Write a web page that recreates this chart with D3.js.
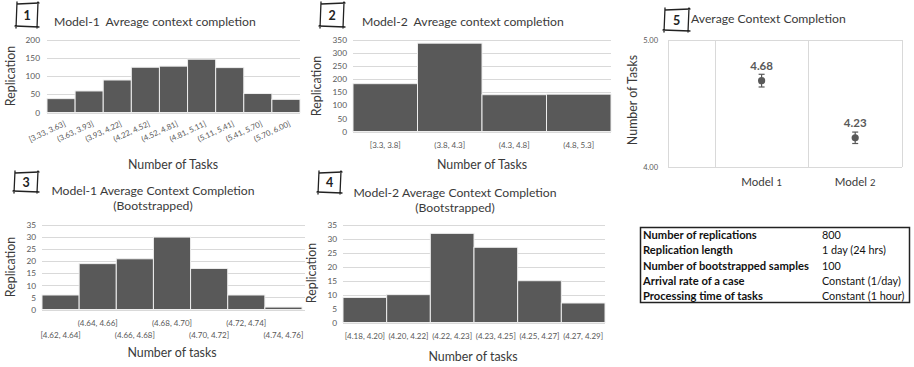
<!DOCTYPE html>
<html>
<head>
<meta charset="utf-8">
<script src="https://cdn.jsdelivr.net/npm/d3@7"></script>
<style>
  html, body { margin: 0; padding: 0; background: #fff; }
  svg { display: block; font-family: Lato, "Open Sans", sans-serif; }
</style>
</head>
<body>
<svg id="fig" width="914" height="367"></svg>
<script>
// ---- data ----
const m1Bins = ["[3.33, 3.63]", "(3.63, 3.93]", "(3.93, 4.22]", "(4.22, 4.52]", "(4.52, 4.81]",
                "(4.81, 5.11]", "(5.11, 5.41]", "(5.41, 5.70]", "(5.70, 6.00]"];
const m1Counts = [38, 59, 89, 124, 127, 146, 123, 52, 36];

const m2Bins = ["[3.3, 3.8]", "(3.8, 4.3]", "(4.3, 4.8]", "(4.8, 5.3]"];
const m2Counts = [182, 336, 140, 142];

const m1BootBins = ["[4.62, 4.64]", "(4.64, 4.66]", "(4.66, 4.68]", "(4.68, 4.70]",
                    "(4.70, 4.72]", "(4.72, 4.74]", "(4.74, 4.76]"];
const m1BootCounts = [6, 19, 21, 30, 17, 6, 1];

const m2BootBins = ["[4.18, 4.20]", "(4.20, 4.22]", "(4.22, 4.23]", "(4.23, 4.25]",
                    "(4.25, 4.27]", "(4.27, 4.29]"];
const m2BootCounts = [9, 10, 32, 27, 15, 7];

const modelNames = ["1", "2"];
const modelMeans = [4.68, 4.23];
const modelErr = [0.05, 0.045];
const modelPos = [1.5, 2.5];

const tableKeys = ["Number of replications", "Replication length", "Number of bootstrapped samples",
                   "Arrival rate of a case", "Processing time of tasks"];
const tableVals = ["800", "1 day (24 hrs)", "100", "Constant (1/day)", "Constant (1 hour)"];

// ---- styling ----
const BAR = "#595959", GRID = "#d9d9d9", TICK = "#595959", TXT = "#3a3a3a";
const TITLE_SIZE = 12.2, AXIS_TITLE_SIZE = 12.4;

const svg = d3.select("#fig");

// hand-drawn style number badge
function badge(x0, y0, x1, y1, label) {
  const p = d3.path();
  p.moveTo(x0 + 1, y0 + 1); p.lineTo(x1 + 1, y0);
  p.moveTo(x1, y0 - 1); p.lineTo(x1 - 1, y1 + 1);
  p.moveTo(x1 + 1, y1); p.lineTo(x0 - 1, y1 - 1);
  p.moveTo(x0, y1 + 1); p.lineTo(x0 + 1, y0 - 1);
  svg.append("path").attr("d", p.toString()).attr("fill", "none")
    .attr("stroke", "#222").attr("stroke-width", 1.3).attr("stroke-linecap", "round");
  svg.append("text").attr("x", (x0 + x1) / 2).attr("y", (y0 + y1) / 2 + 4.5)
    .attr("text-anchor", "middle").attr("font-size", 12.5).attr("font-weight", 700)
    .attr("fill", "#222").text(label);
}

// histogram panel
function histogram(cfg) {
  const g = svg.append("g");
  const x = d3.scaleBand().domain(cfg.bins).range([cfg.left, cfg.right]).padding(0);
  const y = d3.scaleLinear().domain([0, cfg.ymax]).range([cfg.bottom, cfg.top]);
  const ticks = d3.range(0, cfg.ymax + 0.001, cfg.step);

  // gridlines
  g.append("g").selectAll("line").data(ticks).join("line")
    .attr("x1", cfg.left).attr("x2", cfg.gridRight || cfg.right)
    .attr("y1", d => Math.round(y(d)) + 0.5).attr("y2", d => Math.round(y(d)) + 0.5)
    .attr("stroke", GRID).attr("stroke-width", 1);

  // y axis labels
  const ya = d3.axisLeft(y).tickValues(ticks).tickSize(0).tickPadding(0);
  const yg = g.append("g").attr("transform", `translate(${cfg.tickX},0)`).call(ya);
  yg.select(".domain").remove();
  yg.selectAll("text").attr("font-size", 8.3).attr("fill", TICK).attr("font-family", "Lato, sans-serif");

  // bars
  g.append("g").selectAll("rect").data(cfg.counts).join("rect")
    .attr("x", (d, i) => x(cfg.bins[i]))
    .attr("width", x.bandwidth())
    .attr("y", d => y(d))
    .attr("height", d => y(0) - y(d))
    .attr("fill", BAR).attr("stroke", "#eeeeee").attr("stroke-width", 1);

  // x labels
  const xl = g.append("g").selectAll("text").data(cfg.bins).join("text")
    .attr("fill", TICK).attr("font-size", cfg.labelSize || 8).text(d => d);
  if (cfg.rotate) {
    xl.attr("text-anchor", "end")
      .attr("transform", d => `translate(${x(d) + x.bandwidth() / 2 + 5},${cfg.bottom + 13}) rotate(${cfg.rotate})`);
  } else if (cfg.stagger) {
    xl.attr("text-anchor", "middle")
      .attr("x", d => x(d) + x.bandwidth() / 2)
      .attr("y", (d, i) => i % 2 === 0 ? cfg.bottom + 28 : cfg.bottom + 16);
  } else {
    xl.attr("text-anchor", "middle")
      .attr("x", d => x(d) + x.bandwidth() / 2)
      .attr("y", cfg.bottom + cfg.labelDy);
  }

  // y title
  g.append("text").attr("transform", `translate(${cfg.yTitleX},${cfg.yTitleY}) rotate(-90)`)
    .attr("text-anchor", "middle").attr("font-size", AXIS_TITLE_SIZE).attr("fill", TXT).text("Replication");
  // x title
  g.append("text").attr("x", cfg.xTitleX).attr("y", cfg.xTitleY)
    .attr("text-anchor", "middle").attr("font-size", AXIS_TITLE_SIZE).attr("fill", TXT).text(cfg.xTitle);
  // chart title
  cfg.title.forEach((t, i) => {
    g.append("text").attr("x", cfg.titleX).attr("y", cfg.titleY + i * 15)
      .attr("text-anchor", cfg.titleAnchor).attr("font-size", TITLE_SIZE).attr("fill", TXT)
      .attr("xml:space", "preserve").text(t);
  });
}

// Panel 1
badge(16, 3, 38, 27, "1");
histogram({
  bins: m1Bins, counts: m1Counts, ymax: 200, step: 50,
  left: 47, right: 300, top: 39.5, bottom: 112.5, tickX: 40,
  rotate: -25, labelSize: 7.8,
  yTitleX: 15, yTitleY: 76, xTitle: "Number of Tasks", xTitleX: 173, xTitleY: 169,
  title: ["Model-1  Avreage context completion"], titleX: 54, titleY: 26, titleAnchor: "start"
});

// Panel 2
badge(320, 3, 344, 27, "2");
histogram({
  bins: m2Bins, counts: m2Counts, ymax: 350, step: 50,
  left: 353, right: 611, top: 39.5, bottom: 131.5, tickX: 347,
  labelDy: 16, labelSize: 8,
  yTitleX: 321, yTitleY: 86, xTitle: "Number of Tasks", xTitleX: 482, xTitleY: 169,
  title: ["Model-2  Avreage context completion"], titleX: 362, titleY: 26, titleAnchor: "start"
});

// Panel 3
badge(14, 172, 38, 192, "3");
histogram({
  bins: m1BootBins, counts: m1BootCounts, ymax: 35, step: 5,
  left: 42, right: 302, gridRight: 305, top: 225, bottom: 309.5, tickX: 36,
  stagger: true, labelSize: 8,
  yTitleX: 15, yTitleY: 267, xTitle: "Number of tasks", xTitleX: 172, xTitleY: 357,
  title: ["Model-1 Average Context Completion", "(Bootstrapped)"], titleX: 153, titleY: 195, titleAnchor: "middle"
});

// Panel 4
badge(318, 172, 341, 193, "4");
histogram({
  bins: m2BootBins, counts: m2BootCounts, ymax: 35, step: 5,
  left: 343, right: 605, top: 225, bottom: 322.5, tickX: 337,
  labelDy: 16, labelSize: 8,
  yTitleX: 316, yTitleY: 273, xTitle: "Number of tasks", xTitleX: 473, xTitleY: 361,
  title: ["Model-2 Average Context Completion", "(Bootstrapped)"], titleX: 455, titleY: 197, titleAnchor: "middle"
});

// Panel 5: mean with error bars
(function () {
  badge(664, 9, 689, 31, "5");
  svg.append("text").attr("x", 691).attr("y", 23).attr("font-size", TITLE_SIZE).attr("fill", TXT)
    .text("Average Context Completion");

  const x = d3.scaleLinear().domain([0.5, 3]).range([668, 902]);
  const y = d3.scaleLinear().domain([4, 5]).range([167, 40]);
  const g = svg.append("g");

  // frame and vertical gridlines
  g.selectAll("line.h").data([4, 5]).join("line").attr("class", "h")
    .attr("x1", x(0.5)).attr("x2", x(3))
    .attr("y1", d => Math.round(y(d)) + 0.5).attr("y2", d => Math.round(y(d)) + 0.5)
    .attr("stroke", GRID);
  g.selectAll("line.v").data([0.5, 1, 2, 3]).join("line").attr("class", "v")
    .attr("x1", d => Math.round(x(d)) + 0.5).attr("x2", d => Math.round(x(d)) + 0.5)
    .attr("y1", y(5)).attr("y2", y(4))
    .attr("stroke", GRID);

  const ya = d3.axisLeft(y).tickValues([4, 5]).tickFormat(d3.format(".2f")).tickSize(0).tickPadding(0);
  const yg = g.append("g").attr("transform", "translate(658,0)").call(ya);
  yg.select(".domain").remove();
  yg.selectAll("text").attr("font-size", 7.5).attr("fill", TICK).attr("font-family", "Lato, sans-serif");

  g.append("text").attr("transform", "translate(637,100) rotate(-90)")
    .attr("text-anchor", "middle").attr("font-size", AXIS_TITLE_SIZE).attr("fill", TXT).text("Number of Tasks");

  // error bars
  modelMeans.forEach((m, i) => {
    const cx = x(modelPos[i]);
    const e = modelErr[i];
    g.append("line").attr("x1", cx).attr("x2", cx).attr("y1", y(m + e)).attr("y2", y(m - e))
      .attr("stroke", BAR).attr("stroke-width", 1.2);
    [m + e, m - e].forEach(v => {
      g.append("line").attr("x1", cx - 3).attr("x2", cx + 3).attr("y1", y(v)).attr("y2", y(v))
        .attr("stroke", BAR).attr("stroke-width", 1.2);
    });
    g.append("circle").attr("cx", cx).attr("cy", y(m)).attr("r", 3.6).attr("fill", BAR);
    g.append("text").attr("x", cx).attr("y", y(m) - 11).attr("text-anchor", "middle")
      .attr("font-size", 11.5).attr("font-weight", 700).attr("fill", BAR).text(d3.format(".2f")(m));
    const t = g.append("text").attr("x", cx).attr("y", 186).attr("text-anchor", "middle")
      .attr("font-size", 11.5).attr("fill", TXT);
    t.append("tspan").text("Model ");
    t.append("tspan").attr("font-size", 9.5).text(modelNames[i]);
  });
})();

// Simulation settings table
(function () {
  const g = svg.append("g");
  g.append("rect").attr("x", 640.5).attr("y", 227.5).attr("width", 269).attr("height", 75)
    .attr("fill", "none").attr("stroke", "#222").attr("stroke-width", 1.5);
  const ry = d3.scalePoint().domain(d3.range(tableKeys.length)).range([239, 300]);
  g.selectAll("text.k").data(tableKeys).join("text").attr("class", "k")
    .attr("x", 643).attr("y", (d, i) => ry(i)).attr("font-size", 11.2).attr("font-weight", 700)
    .attr("fill", "#111").text(d => d);
  g.selectAll("text.v").data(tableVals).join("text").attr("class", "v")
    .attr("x", 822).attr("y", (d, i) => ry(i)).attr("font-size", 10.8)
    .attr("fill", "#111").text(d => d);
})();
</script>
</body>
</html>
